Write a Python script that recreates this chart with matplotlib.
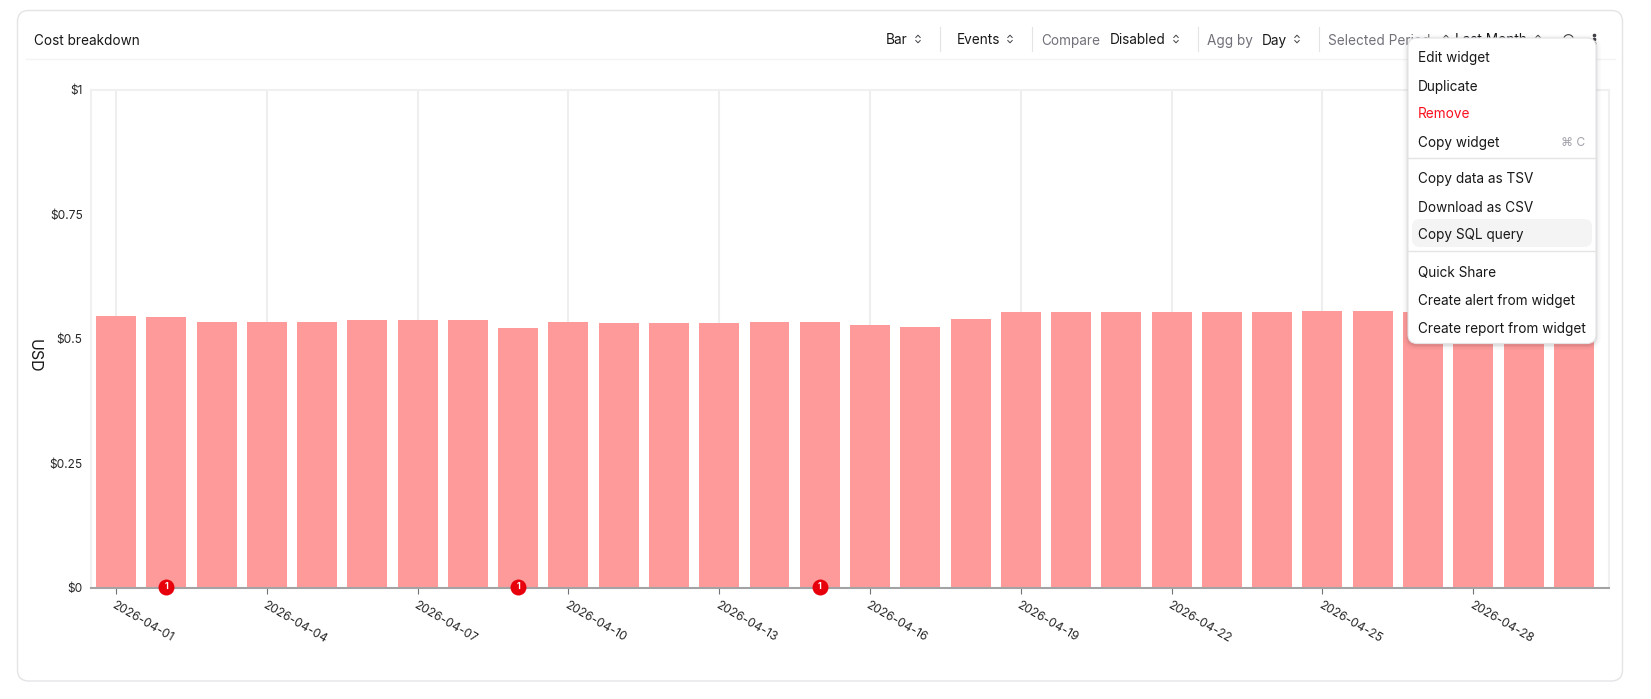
import matplotlib
matplotlib.use('Agg')
import matplotlib.pyplot as plt
from matplotlib.patches import FancyBboxPatch

W, H = 1651, 699
plt.rcParams['font.family'] = ['Inter', 'DejaVu Sans']

# daily cost in USD
days = ['2026-04-%02d' % d for d in range(1, 31)]
costs = [0.545, 0.543, 0.533, 0.533, 0.533, 0.537, 0.537, 0.537, 0.521, 0.533,
         0.531, 0.531, 0.531, 0.533, 0.533, 0.527, 0.523, 0.539, 0.553, 0.553,
         0.553, 0.553, 0.553, 0.553, 0.555, 0.555, 0.553, 0.553, 0.553, 0.553]
tick_every = 3
y_ticks = [0, 0.25, 0.5, 0.75, 1]
y_labels = ['$0', '$0.25', '$0.5', '$0.75', '$1']
event_days = ['2026-04-02', '2026-04-09', '2026-04-15']
event_counts = [1, 1, 1]

menu_items = [('Edit widget', 58), ('Duplicate', 86.5), ('Remove', 114.5), ('Copy widget', 142.5),
              ('Copy data as TSV', 179.5), ('Download as CSV', 207.5), ('Copy SQL query', 235.5),
              ('Quick Share', 272.5), ('Create alert from widget', 300.5), ('Create report from widget', 328.5)]


def px(size):
    return size * 72 / 100


fig = plt.figure(figsize=(W / 100, H / 100), dpi=100, facecolor='white')

# overlay in pixel coordinates for the card, toolbar and menu
ui = fig.add_axes([0, 0, 1, 1], zorder=0)
ui.set_xlim(0, W)
ui.set_ylim(H, 0)
ui.axis('off')

ui.add_patch(FancyBboxPatch((17.5, 10.5), 1605, 670.5, boxstyle='round,pad=0,rounding_size=11',
                            fc='white', ec='#e4e4e7', lw=1))
ui.plot([26, 1615], [59, 59], color='#f4f4f5', lw=1)
ui.text(34, 41, 'Cost breakdown', fontsize=px(13.6), color='#18181b', va='center')


def chevrons(ax, x, y):
    ax.plot([x - 2.2, x, x + 2.2], [y - 1.5, y - 3.8, y - 1.5], color='#3f3f46', lw=0.7)
    ax.plot([x - 2.2, x, x + 2.2], [y + 1.5, y + 3.8, y + 1.5], color='#3f3f46', lw=0.7)


for label, x in [('Bar', 886), ('Events', 957), ('Disabled', 1110), ('Day', 1262), ('Last Month', 1455)]:
    ui.text(x, 40.5, label, fontsize=px(13.6), color='#18181b', va='center')
for label, x in [('Compare', 1041), ('Agg by', 1207), ('Selected Period', 1328)]:
    ui.text(x, 41, label, fontsize=px(13.6), color='#71717a', va='center')
for x in [918, 1010, 1176, 1297, 1446, 1538]:
    chevrons(ui, x, 39)
for x in [940, 1032, 1198, 1319]:
    ui.plot([x, x], [27, 51], color='#e4e4e7', lw=0.8)
ui.plot([1568], [39], 'o', ms=7, mfc='none', mec='#3f3f46', mew=0.8)
ui.plot([1594, 1594, 1594], [35, 39, 43], 'o', ms=1.6, color='#3f3f46')

# chart
ax = fig.add_axes([91 / W, 1 - 587.7 / H, (1609 - 91) / W, (587.7 - 89.5) / H], zorder=1)
ax.patch.set_alpha(0)
x = list(range(len(days)))
ax.bar(x, costs, width=0.795, color='#fe9a9a', zorder=2)
ax.set_xlim(-0.497, 29.7)
ax.set_ylim(0, 1)

ax.set_xticks(x[::tick_every])
ax.set_xticklabels(days[::tick_every], rotation=-30, ha='left', rotation_mode='anchor',
                   fontsize=px(12), color='#27272a')
ax.set_yticks(y_ticks)
ax.set_yticklabels(y_labels, fontsize=px(12), color='#27272a')
ax.tick_params(axis='y', length=0, pad=6)
ax.tick_params(axis='x', length=4, width=0.8, color='#71717a', pad=4)
ax.grid(axis='x', color='#eeeeee', lw=1.5, zorder=0)
ax.set_axisbelow(True)
for side in ['top', 'left', 'right']:
    ax.spines[side].set_color('#f0f0f0')
    ax.spines[side].set_linewidth(1.5)
ax.spines['bottom'].set_color('#a3a3a3')
ax.spines['bottom'].set_linewidth(1.5)
ax.spines['bottom'].set_zorder(3)
ax.set_ylabel('USD', fontsize=px(16), color='#18181b', rotation=270, va='center')
ax.yaxis.set_label_coords(-0.0375, 0.465)

# event badges along the baseline
for day, count in zip(event_days, event_counts):
    i = days.index(day)
    ax.plot([i], [0.002], 'o', ms=11.5, color='#e7000b', mec='none', zorder=5, clip_on=False)
    ax.text(i, 0.003, str(count), color='white', fontsize=px(9), fontweight='bold',
            ha='center', va='center', zorder=6)

# open dropdown menu above everything else
top = fig.add_axes([0, 0, 1, 1], zorder=2)
top.set_xlim(0, W)
top.set_ylim(H, 0)
top.axis('off')
top.patch.set_alpha(0)
for grow, alpha in [(5, 0.015), (3.5, 0.025), (2, 0.035), (1, 0.05)]:
    top.add_patch(FancyBboxPatch((1408 - grow, 38 - grow + 1.5), 188 + 2 * grow, 305.5 + 2 * grow,
                                 boxstyle='round,pad=0,rounding_size=%g' % (9 + grow),
                                 fc='black', ec='none', alpha=alpha))
top.add_patch(FancyBboxPatch((1408, 38), 188, 305.5, boxstyle='round,pad=0,rounding_size=9',
                             fc='white', ec='#e4e4e7', lw=0.8))
top.add_patch(FancyBboxPatch((1412, 219), 180, 28, boxstyle='round,pad=0,rounding_size=8',
                             fc='#f4f4f5', ec='none'))
top.plot([1408, 1596], [158, 158], color='#e4e4e7', lw=1)
top.plot([1408, 1596], [251, 251], color='#e4e4e7', lw=1)
for label, y in menu_items:
    top.text(1418, y, label, fontsize=px(13.6), va='center',
             color='#fb0f1c' if label == 'Remove' else '#18181b')
top.text(1585, 142.5, '⌘ C', fontsize=px(12), va='center', ha='right', color='#a1a1aa')

fig.savefig('out.png', dpi=100)
